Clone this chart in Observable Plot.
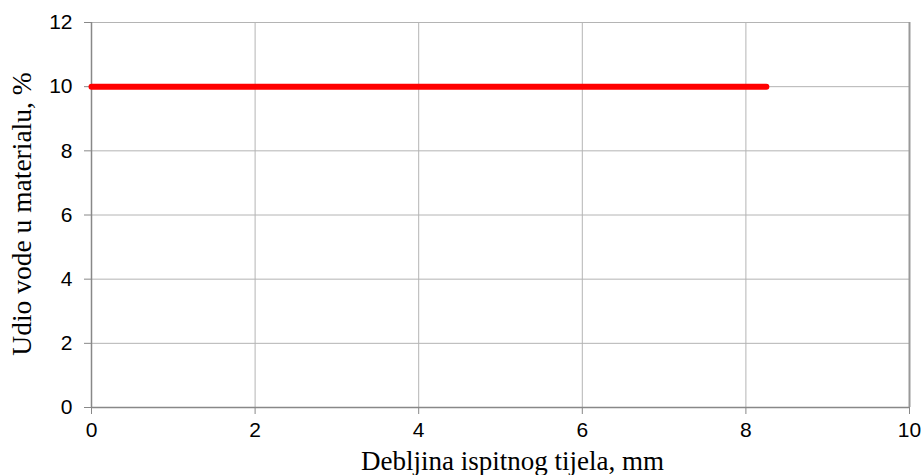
<!DOCTYPE html>
<html>
<head>
<meta charset="utf-8">
<script src="https://cdn.jsdelivr.net/npm/d3@7"></script>
<script src="https://cdn.jsdelivr.net/npm/@observablehq/plot@0.6"></script>
<style>
  html, body { margin: 0; padding: 0; background: #fff; }
  #chart svg { display: block; }
</style>
</head>
<body>
<div id="chart"></div>
<script>
// Data
const thickness = [0, 8.25];      // mm
const moisture = [10, 10];        // %
const xTicks = [0, 2, 4, 6, 8, 10];
const yTicks = [0, 2, 4, 6, 8, 10, 12];
const xLabel = "Debljina ispitnog tijela, mm";
const yLabel = "Udio vode u materialu, %";

const data = thickness.map((t, i) => ({t, m: moisture[i]}));

const sans = "'Liberation Sans', Arial, sans-serif";
const serif = "'Liberation Serif', 'Times New Roman', serif";

const chart = Plot.plot({
  width: 924,
  height: 475,
  marginLeft: 91,
  marginRight: 15,
  marginTop: 22,
  marginBottom: 68,
  style: {background: "#fff", fontFamily: sans, fontSize: "21px"},
  x: {domain: [0, 10], ticks: xTicks},
  y: {domain: [0, 12], ticks: yTicks},
  marks: [
    Plot.gridX(xTicks, {stroke: "#b4b4b4", strokeOpacity: 1, strokeWidth: 1}),
    Plot.gridY(yTicks, {stroke: "#b4b4b4", strokeOpacity: 1, strokeWidth: 1}),
    Plot.ruleX([10], {stroke: "#999", strokeWidth: 2}),
    Plot.ruleX([0], {stroke: "#888", strokeWidth: 1.5}),
    Plot.ruleY([0], {stroke: "#888", strokeWidth: 1.5}),
    Plot.axisX(xTicks, {tickSize: 7, tickPadding: 8, stroke: "#888", fill: "#000", fontSize: 21, label: null, tickFormat: d => String(d)}),
    Plot.axisY(yTicks, {tickSize: 7, tickPadding: 12, stroke: "#888", fill: "#000", fontSize: 21, label: null, tickFormat: d => String(d)}),
    Plot.line(data, {x: "t", y: "m", stroke: "#ff0000", strokeWidth: 6, strokeLinecap: "round"}),
    Plot.text([xLabel], {text: d => d, frameAnchor: "bottom", dx: 12, dy: 54, fontFamily: serif, fontSize: 27, fill: "#000", lineAnchor: "middle", textAnchor: "middle"}),
    Plot.text([yLabel], {text: d => d, frameAnchor: "left", rotate: -90, dx: -69, dy: -1, fontFamily: serif, fontSize: 27.5, fill: "#000", lineAnchor: "middle", textAnchor: "middle"})
  ]
});
document.getElementById("chart").appendChild(chart);
</script>
</body>
</html>
